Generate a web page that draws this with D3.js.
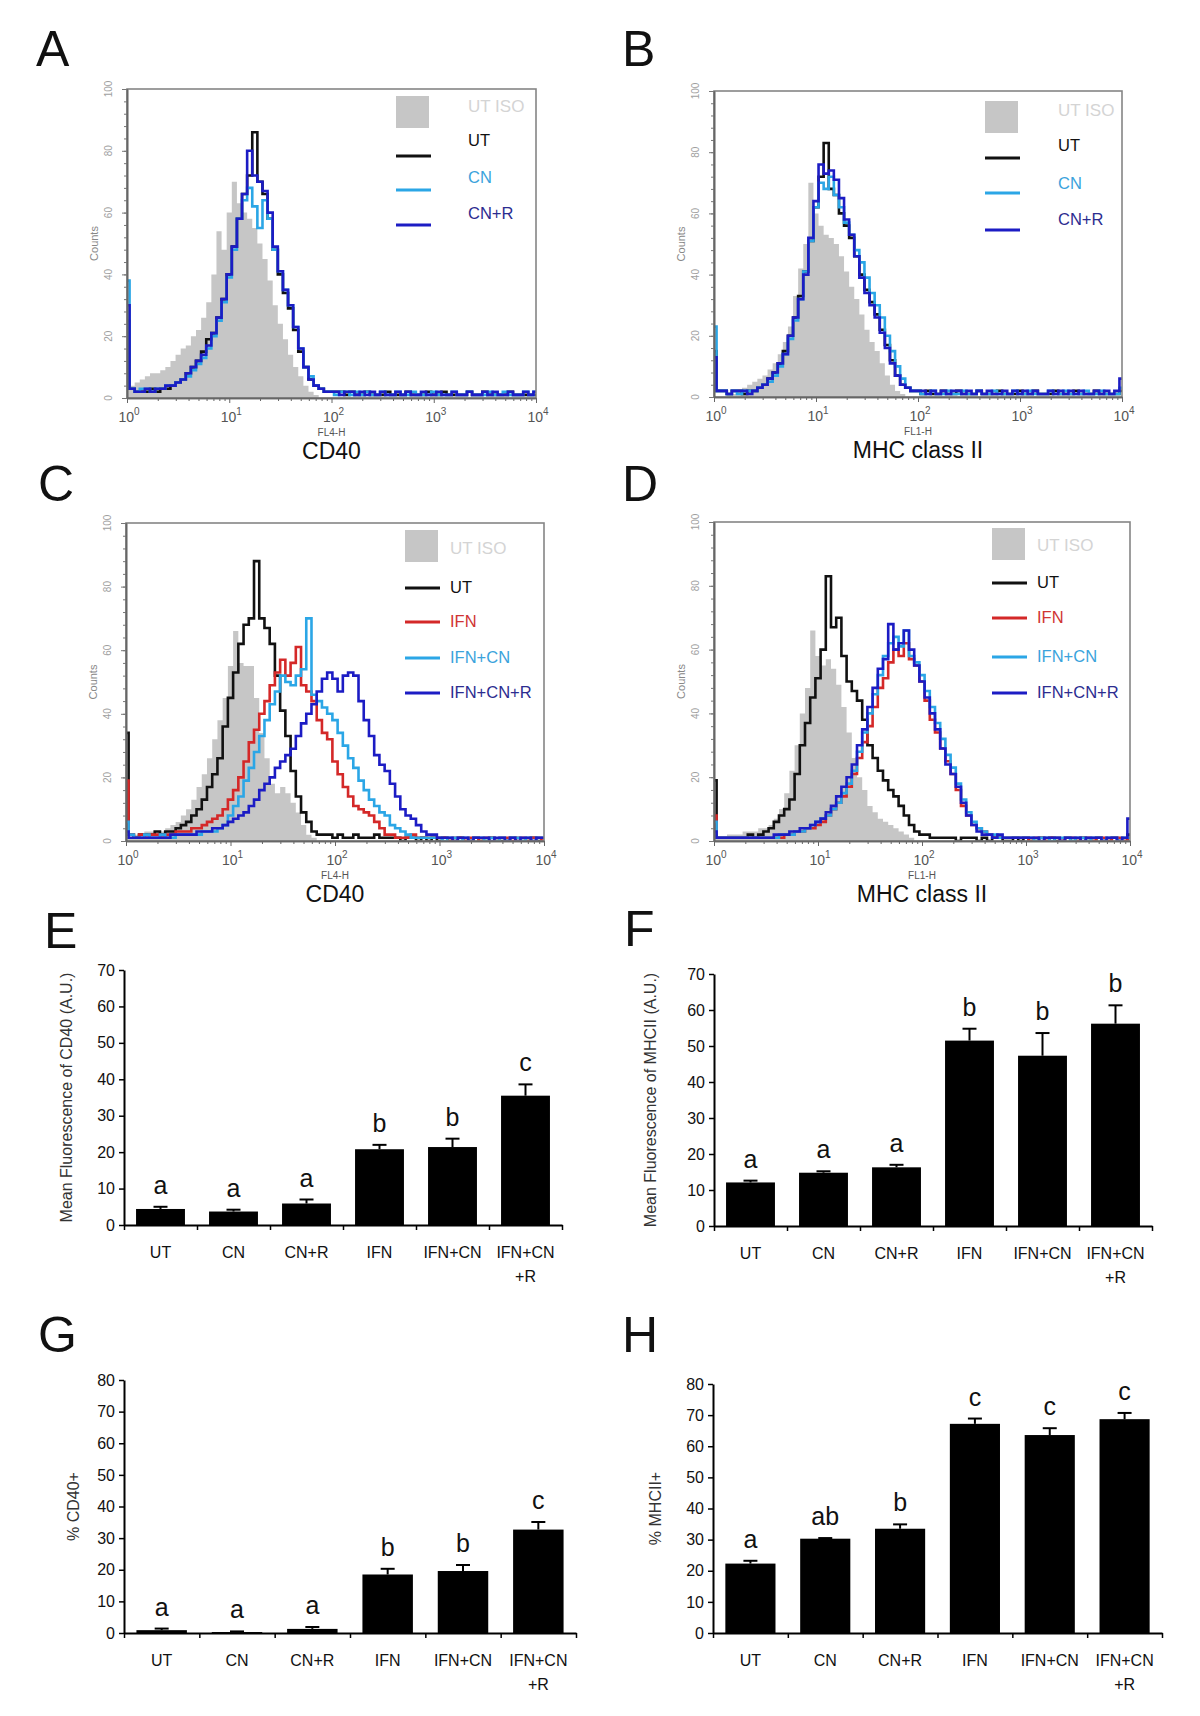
<!DOCTYPE html>
<html><head><meta charset="utf-8">
<script src="https://cdn.jsdelivr.net/npm/d3@7"></script>
<style>
body{margin:0;background:#fff}
svg{display:block}
text{font-family:"Liberation Sans",Arial,Helvetica,sans-serif}
</style>
</head><body>
<svg id="fig" width="1200" height="1716"></svg>
<script>
// ---------- histogram data: counts per channel, channels every 0.05 decade from 10^0 to 10^4 ----------
const logGrid = d3.range(81).map(i => i * 0.05);
const decadeLabels = ["0","1","2","3","4"];

// Panel A: CD40, UT ISO / UT / CN / CN+R
const A_ISO = [5,4,5,6,7,8,8,9,10,12, 14,16,17,20,22,26,31,40,54,48, 60,70,63,60,58,55,50,45,38,30, 24,19,14,10,7,4,2,1,0,0, 0,0,0,0,0,0,0,0,0,0, 0,0,0,0,0,0,0,0,0,0, 0,0,0,0,0,0,0,0,0,0, 0,0,0,0,0,0,0,0,0,0, 0];
const A_UT  = [25,3,2,2,2,3,2,3,3,4, 5,6,8,10,12,15,19,21,26,32, 40,49,58,66,72,86,70,66,58,48, 40,34,29,22,15,10,6,4,3,2, 2,2,2,1,2,1,1,2,1,1, 1,2,1,1,1,2,1,1,1,2, 1,1,2,1,1,1,1,2,1,1, 2,1,1,1,1,2,1,1,1,1, 1];
const A_CN  = [38,3,2,3,3,2,3,3,4,4, 5,6,7,9,11,13,16,20,25,31, 39,48,58,64,68,62,55,64,58,48, 41,35,30,23,16,10,7,4,3,2, 2,1,2,2,1,2,1,2,1,1, 2,1,1,2,1,1,2,1,1,1, 2,1,1,1,2,1,1,2,1,1, 1,2,1,1,2,1,1,1,2,1, 2];
const A_CNR = [30,3,2,2,3,2,3,3,4,4, 5,6,8,10,12,14,17,21,26,32, 40,49,58,66,80,72,70,67,60,49, 41,35,30,23,16,10,6,4,3,2, 2,2,1,2,2,1,2,1,2,1, 2,1,1,2,1,2,1,1,2,1, 1,2,1,1,2,1,1,2,1,1, 2,1,2,1,1,2,1,1,2,1, 2];

// Panel B: MHC class II, UT ISO / UT / CN / CN+R
const B_ISO = [0,0,0,1,1,2,3,4,5,6, 7,9,11,14,18,23,33,42,50,70, 60,56,53,52,50,46,41,36,32,27, 22,18,15,11,7,4,2,1,0,0, 0,0,0,0,0,0,0,0,0,0, 0,0,0,0,0,0,0,0,0,0, 0,0,0,0,0,0,0,0,0,0, 0,0,0,0,0,0,0,0,0,0, 0];
const B_UT  = [15,2,2,1,2,2,1,2,2,3, 4,6,8,11,15,20,26,33,41,51, 62,72,83,68,66,60,56,52,46,40, 35,31,27,22,17,12,7,4,3,2, 2,1,2,1,1,2,1,1,2,1, 1,1,2,1,1,1,2,1,1,1, 2,1,1,2,1,1,1,2,1,1, 1,2,1,1,1,2,1,1,1,1, 2];
const B_CN  = [23,2,2,1,2,1,2,2,2,3, 4,5,7,10,14,19,25,32,41,51, 62,70,68,72,66,62,57,53,48,44, 39,34,30,26,20,15,10,6,3,2, 2,1,1,2,1,1,2,1,1,2, 1,1,2,1,1,2,1,1,1,2, 1,1,2,1,1,1,2,1,1,2, 1,1,1,2,1,1,2,1,1,1, 3];
const B_CNR = [13,2,2,1,2,2,2,1,2,3, 4,6,8,11,14,20,26,32,40,52, 64,76,73,74,71,65,58,53,46,39, 34,30,26,21,16,11,7,4,3,2, 2,2,1,2,1,2,1,2,2,1, 2,1,2,1,2,1,1,2,1,2, 1,2,1,2,1,1,2,1,2,1, 2,1,2,1,1,2,1,2,1,2, 6];

// Panel C: CD40, UT ISO / UT / IFN / IFN+CN / IFN+CN+R
const C_ISO    = [2,1,2,2,3,3,3,3,4,5, 6,8,10,13,17,21,26,32,38,45, 55,66,56,55,55,45,34,26,18,15, 17,15,12,9,5,2,1,0,0,0, 0,0,0,0,0,0,0,0,0,0, 0,0,0,0,0,0,0,0,0,0, 0,0,0,0,0,0,0,0,0,0, 0,0,0,0,0,0,0,0,0,0, 0];
const C_UT     = [34,2,1,2,2,2,3,2,3,3, 4,5,6,8,10,13,17,21,26,36, 45,53,62,68,70,88,70,67,62,52, 41,33,22,14,9,6,3,2,2,2, 1,2,1,1,2,1,1,1,2,1, 1,1,1,0,1,1,0,1,0,1, 0,1,0,0,1,0,0,1,0,0, 1,0,0,0,1,0,0,0,1,0, 0];
const C_IFN    = [19,2,1,2,1,2,2,1,2,2, 3,3,3,4,4,5,6,7,8,10, 13,16,20,25,31,35,40,44,49,53, 57,52,56,61,49,47,44,38,34,32, 25,21,17,14,11,10,9,8,6,4, 2,2,1,1,1,2,1,1,1,1, 1,1,0,1,1,0,1,1,0,1, 1,0,1,1,0,1,1,0,1,1, 0];
const C_IFNCN  = [6,2,1,1,2,1,1,2,1,1, 2,2,2,2,2,3,3,3,4,5, 8,11,14,19,23,28,33,38,43,47, 52,50,49,52,54,70,46,44,42,40, 38,34,30,26,23,19,16,13,11,9, 8,5,4,3,2,1,1,1,1,1, 1,0,1,1,0,1,0,1,1,0, 1,0,1,0,1,1,0,1,0,1, 1];
const C_IFNCNR = [3,1,1,1,1,1,1,1,1,2, 2,2,2,2,3,3,3,4,4,5, 6,7,8,9,11,13,16,18,20,23, 25,27,29,33,37,40,43,47,51,53, 51,47,52,53,52,44,38,33,27,24, 22,18,14,10,8,7,5,3,2,2, 1,1,1,0,1,1,0,1,1,1, 0,1,1,0,1,0,1,1,0,1, 1];

// Panel D: MHC class II, UT ISO / UT / IFN / IFN+CN / IFN+CN+R
const D_ISO    = [2,1,1,2,2,2,3,3,3,4, 4,5,7,10,15,22,30,40,48,66, 58,55,57,54,49,42,34,26,20,16, 11,9,7,6,5,4,3,2,1,0, 0,0,0,0,0,0,0,0,0,0, 0,0,0,0,0,0,0,0,0,0, 0,0,0,0,0,0,0,0,0,0, 0,0,0,0,0,0,0,0,0,0, 0];
const D_UT     = [19,1,1,1,1,1,1,2,1,2, 3,4,6,8,10,13,21,30,37,45, 51,60,83,67,70,58,50,47,44,38, 30,26,22,19,16,14,11,8,5,3, 2,2,1,1,1,1,1,0,1,1, 1,0,1,0,1,1,0,0,1,0, 1,0,0,1,0,1,0,0,1,0, 0,1,0,0,1,0,0,1,0,0, 2];
const D_IFN    = [8,1,1,1,1,1,1,1,1,1, 1,1,1,1,2,2,3,3,4,4, 5,6,8,10,12,14,17,21,26,31, 36,42,48,51,56,60,58,62,57,55, 50,44,38,34,29,25,21,16,11,8, 5,4,3,2,1,1,1,1,1,1, 1,0,1,1,0,1,1,0,1,1, 0,1,1,0,1,1,0,1,1,0, 1];
const D_IFNCN  = [6,1,1,1,1,1,1,1,1,1, 1,1,1,2,2,2,3,3,4,5, 6,7,8,10,12,15,18,22,28,34, 40,46,52,58,62,64,61,66,58,56, 52,47,42,37,32,27,23,18,13,9, 6,4,3,2,2,1,1,1,1,1, 1,1,0,1,1,0,1,1,1,0, 1,1,0,1,1,0,1,1,0,1, 1];
const D_IFNCNR = [3,1,1,1,1,1,1,1,1,1, 1,1,2,2,2,3,3,4,4,5, 6,7,9,11,14,17,20,24,30,35, 42,48,54,57,68,60,62,66,60,55, 50,45,40,35,29,24,21,17,12,8, 5,3,2,2,1,2,1,1,1,1, 1,1,1,0,1,1,1,0,1,1, 1,0,1,1,1,0,1,1,0,1, 7];

// ---------- bar chart data ----------
const categories = ["UT","CN","CN+R","IFN","IFN+CN","IFN+CN +R"];
const categoryLines = [["UT"],["CN"],["CN+R"],["IFN"],["IFN+CN"],["IFN+CN","+R"]];

const E_mean = [4.4, 3.7, 5.9, 20.8, 21.4, 35.5];
const E_err  = [0.6, 0.5, 1.1, 1.2, 2.3, 3.1];
const E_sig  = ["a","a","a","b","b","c"];

const F_mean = [12.1, 14.8, 16.3, 51.5, 47.3, 56.2];
const F_err  = [0.5, 0.4, 0.7, 3.3, 6.3, 5.1];
const F_sig  = ["a","a","a","b","b","b"];

const G_mean = [0.9, 0.3, 1.3, 18.5, 19.6, 32.7];
const G_err  = [0.5, 0.2, 0.6, 1.8, 1.9, 2.4];
const G_sig  = ["a","a","a","b","b","c"];

const H_mean = [22.3, 30.3, 33.5, 67.2, 63.6, 68.7];
const H_err  = [0.9, 0.2, 1.4, 1.7, 2.2, 2.0];
const H_sig  = ["a","ab","b","c","c","c"];

// ---------- colours ----------
const COL = {iso:"#c6c6c6", ut:"#111111", cn:"#2ba6e6", cnr:"#1c1cc4", ifn:"#d42828"};
const TXT = {iso:"#d4d4d4", ut:"#111111", cn:"#3ba3dc", cnr:"#2c2c90", ifn:"#d03434"};

const svg = d3.select("#fig");

function panelLetter(t, x, y) {
  svg.append("text").attr("x", x).attr("y", y).attr("font-size", 50).attr("fill", "#111").text(t);
}

function drawHist(p) {
  const x = d3.scaleLog().domain([1, 1e4]).range([p.x0, p.x1]);
  const y = d3.scaleLinear().domain([0, 100]).range([p.y1, p.y0]);
  const g = svg.append("g");
  const cid = "clip" + p.id;
  svg.append("clipPath").attr("id", cid).append("rect")
    .attr("x", p.x0).attr("y", p.y0 - 2).attr("width", p.x1 - p.x0).attr("height", p.y1 - p.y0 + 2);
  const pg = g.append("g").attr("clip-path", `url(#${cid})`);
  const pts = vals => vals.map((v, i) => [Math.pow(10, logGrid[i]), v]);
  pg.append("path").datum(pts(p.iso)).attr("fill", COL.iso)
    .attr("d", d3.area().curve(d3.curveStep).x(d => x(d[0])).y0(y(0)).y1(d => y(d[1])));
  p.series.forEach(s => {
    pg.append("path").datum(pts(s.values)).attr("fill", "none").attr("stroke", s.color)
      .attr("stroke-width", 2.6).attr("stroke-linejoin", "miter")
      .attr("d", d3.line().curve(d3.curveStep).x(d => x(d[0])).y(d => y(d[1])));
  });
  // frame
  g.append("rect").attr("x", p.x0).attr("y", p.y0).attr("width", p.x1 - p.x0).attr("height", p.y1 - p.y0)
    .attr("fill", "none").attr("stroke", "#858585").attr("stroke-width", 1.6);
  // x axis
  const decades = [1, 10, 100, 1000, 10000];
  const minors = [];
  decades.slice(0, 4).forEach(d => { for (let m = 2; m < 10; m++) minors.push(m * d); });
  const xa = g.append("g").attr("transform", `translate(0,${p.y1})`);
  xa.append("g").call(d3.axisBottom(x).tickValues(decades).tickSize(5).tickSizeOuter(0).tickFormat(""));
  xa.append("g").call(d3.axisBottom(x).tickValues(minors).tickSize(3).tickSizeOuter(0).tickFormat(""));
  xa.selectAll("path.domain").attr("stroke", "#666").attr("stroke-width", 1.6);
  xa.selectAll(".tick line").attr("stroke", "#666");
  decades.forEach((v, k) => {
    const t = g.append("text").attr("x", x(v) + 2).attr("y", p.y1 + 24).attr("text-anchor", "middle")
      .attr("font-size", 14).attr("fill", "#555");
    t.append("tspan").text("10");
    t.append("tspan").attr("dy", -7).attr("font-size", 10).text(decadeLabels[k]);
  });
  g.append("text").attr("x", x(100)).attr("y", p.y1 + 38).attr("text-anchor", "middle")
    .attr("font-size", 10).attr("fill", "#555").text(p.fl);
  g.append("text").attr("x", (p.x0 + p.x1) / 2).attr("y", p.y1 + 61).attr("text-anchor", "middle")
    .attr("font-size", 23).attr("fill", "#111").text(p.marker);
  // y axis
  const ya = g.append("g").attr("transform", `translate(${p.x0},0)`);
  ya.append("g").call(d3.axisLeft(y).tickValues(d3.range(0, 101, 4)).tickSize(3).tickSizeOuter(0).tickFormat(""));
  ya.append("g").call(d3.axisLeft(y).tickValues(d3.range(0, 101, 20)).tickSize(5).tickSizeOuter(0).tickFormat(""));
  ya.selectAll("path.domain").attr("stroke", "#666").attr("stroke-width", 1.6);
  ya.selectAll(".tick line").attr("stroke", "#777");
  d3.range(0, 101, 20).forEach(v => {
    g.append("text").attr("transform", `translate(${p.x0 - 15},${y(v)}) rotate(-90)`)
      .attr("text-anchor", "middle").attr("font-size", 10).attr("fill", "#a0a0a0").text(v);
  });
  g.append("text").attr("transform", `translate(${p.x0 - 29},${(p.y0 + p.y1) / 2}) rotate(-90)`)
    .attr("text-anchor", "middle").attr("font-size", 11).attr("fill", "#888").text("Counts");
  // legend
  const L = p.legend;
  g.append("rect").attr("x", L.lx).attr("y", L.sqY).attr("width", 33).attr("height", 32).attr("fill", COL.iso);
  g.append("text").attr("x", L.tx).attr("y", L.isoY).attr("dy", "0.35em").attr("font-size", 17)
    .attr("fill", TXT.iso).text("UT ISO");
  L.items.forEach(it => {
    g.append("line").attr("x1", L.lx).attr("x2", L.lx + 35).attr("y1", it.lineY).attr("y2", it.lineY)
      .attr("stroke", it.color).attr("stroke-width", 3);
    g.append("text").attr("x", L.tx).attr("y", it.textY).attr("dy", "0.35em").attr("font-size", 16.5)
      .attr("fill", it.textColor).text(it.label);
  });
}

function drawBars(p) {
  const x = d3.scaleBand().domain(categories).range([p.x0, p.x1]).paddingInner(0.33).paddingOuter(0.165);
  const xb = d3.scaleLinear().domain([0, categories.length]).range([p.x0, p.x1]);
  const y = d3.scaleLinear().domain([0, p.max]).range([p.y1, p.y0]);
  const g = svg.append("g");
  const rows = categories.map((c, i) => ({c, m: p.mean[i], e: p.err[i], s: p.sig[i], lines: categoryLines[i]}));
  g.selectAll("rect.bar").data(rows).join("rect").attr("class", "bar")
    .attr("x", d => x(d.c)).attr("width", x.bandwidth())
    .attr("y", d => y(d.m)).attr("height", d => y(0) - y(d.m)).attr("fill", "#000");
  rows.forEach(d => {
    const cx = x(d.c) + x.bandwidth() / 2;
    g.append("line").attr("x1", cx).attr("x2", cx).attr("y1", y(d.m)).attr("y2", y(d.m + d.e))
      .attr("stroke", "#000").attr("stroke-width", 2);
    g.append("line").attr("x1", cx - 7).attr("x2", cx + 7).attr("y1", y(d.m + d.e)).attr("y2", y(d.m + d.e))
      .attr("stroke", "#000").attr("stroke-width", 2);
    g.append("text").attr("x", cx).attr("y", y(d.m + d.e) - 13).attr("text-anchor", "middle")
      .attr("font-size", 25).attr("fill", "#111").text(d.s);
    d.lines.forEach((ln, k) => {
      g.append("text").attr("x", cx).attr("y", p.y1 + 33 + k * 24).attr("text-anchor", "middle")
        .attr("font-size", 16).attr("fill", "#111").text(ln);
    });
  });
  const ya = g.append("g").attr("transform", `translate(${p.x0},0)`)
    .call(d3.axisLeft(y).tickValues(d3.range(0, p.max + 1, 10)).tickSize(5).tickSizeOuter(0).tickPadding(4));
  ya.selectAll("text").attr("font-size", 16).attr("fill", "#111").attr("font-family", '"Liberation Sans",Arial,sans-serif');
  ya.select("path.domain").attr("stroke-width", 2);
  ya.selectAll(".tick line").attr("stroke-width", 1.5);
  const xa = g.append("g").attr("transform", `translate(0,${p.y1})`)
    .call(d3.axisBottom(xb).ticks(categories.length).tickSize(5).tickSizeOuter(0).tickFormat(""));
  xa.select("path.domain").attr("stroke-width", 2);
  xa.selectAll(".tick line").attr("stroke-width", 1.5);
  g.append("text").attr("transform", `translate(${p.titleX},${(p.y0 + p.y1) / 2}) rotate(-90)`)
    .attr("text-anchor", "middle").attr("font-size", 16).attr("fill", "#333").text(p.title);
}

// ---------- panels ----------
panelLetter("A", 36, 66);
drawHist({id:"A", x0:127, x1:536, y0:89, y1:398, iso:A_ISO, fl:"FL4-H", marker:"CD40",
  series:[{values:A_UT,color:COL.ut},{values:A_CN,color:COL.cn},{values:A_CNR,color:COL.cnr}],
  legend:{lx:396, tx:468, sqY:96, isoY:106, items:[
    {label:"UT", color:COL.ut, textColor:TXT.ut, textY:140, lineY:156},
    {label:"CN", color:COL.cn, textColor:TXT.cn, textY:177, lineY:190},
    {label:"CN+R", color:COL.cnr, textColor:TXT.cnr, textY:213, lineY:225}]}});

panelLetter("B", 622, 66);
drawHist({id:"B", x0:714, x1:1122, y0:91, y1:397, iso:B_ISO, fl:"FL1-H", marker:"MHC class II",
  series:[{values:B_UT,color:COL.ut},{values:B_CN,color:COL.cn},{values:B_CNR,color:COL.cnr}],
  legend:{lx:985, tx:1058, sqY:101, isoY:110, items:[
    {label:"UT", color:COL.ut, textColor:TXT.ut, textY:145, lineY:158},
    {label:"CN", color:COL.cn, textColor:TXT.cn, textY:183, lineY:193},
    {label:"CN+R", color:COL.cnr, textColor:TXT.cnr, textY:219, lineY:230}]}});

panelLetter("C", 38, 501);
drawHist({id:"C", x0:126, x1:544, y0:523, y1:841, iso:C_ISO, fl:"FL4-H", marker:"CD40",
  series:[{values:C_UT,color:COL.ut},{values:C_IFN,color:COL.ifn},{values:C_IFNCN,color:COL.cn},{values:C_IFNCNR,color:COL.cnr}],
  legend:{lx:405, tx:450, sqY:530, isoY:548, items:[
    {label:"UT", color:COL.ut, textColor:TXT.ut, textY:587, lineY:588},
    {label:"IFN", color:COL.ifn, textColor:TXT.ifn, textY:621, lineY:622},
    {label:"IFN+CN", color:COL.cn, textColor:TXT.cn, textY:657, lineY:658},
    {label:"IFN+CN+R", color:COL.cnr, textColor:TXT.cnr, textY:692, lineY:693}]}});

panelLetter("D", 622, 501);
drawHist({id:"D", x0:714, x1:1130, y0:522, y1:841, iso:D_ISO, fl:"FL1-H", marker:"MHC class II",
  series:[{values:D_UT,color:COL.ut},{values:D_IFN,color:COL.ifn},{values:D_IFNCN,color:COL.cn},{values:D_IFNCNR,color:COL.cnr}],
  legend:{lx:992, tx:1037, sqY:528, isoY:545, items:[
    {label:"UT", color:COL.ut, textColor:TXT.ut, textY:582, lineY:583},
    {label:"IFN", color:COL.ifn, textColor:TXT.ifn, textY:617, lineY:618},
    {label:"IFN+CN", color:COL.cn, textColor:TXT.cn, textY:656, lineY:657},
    {label:"IFN+CN+R", color:COL.cnr, textColor:TXT.cnr, textY:692, lineY:693}]}});

panelLetter("E", 44, 948);
drawBars({x0:124, x1:562, y0:970, y1:1225, max:70, mean:E_mean, err:E_err, sig:E_sig,
  title:"Mean Fluorescence of CD40 (A.U.)", titleX:72});

panelLetter("F", 624, 946);
drawBars({x0:714, x1:1152, y0:974, y1:1226, max:70, mean:F_mean, err:F_err, sig:F_sig,
  title:"Mean Fluorescence of MHCII (A.U.)", titleX:656});

panelLetter("G", 38, 1352);
drawBars({x0:124, x1:576, y0:1380, y1:1633, max:80, mean:G_mean, err:G_err, sig:G_sig,
  title:"% CD40+", titleX:79});

panelLetter("H", 622, 1352);
drawBars({x0:713, x1:1162, y0:1384, y1:1633, max:80, mean:H_mean, err:H_err, sig:H_sig,
  title:"% MHCII+", titleX:661});
</script>
</body></html>
